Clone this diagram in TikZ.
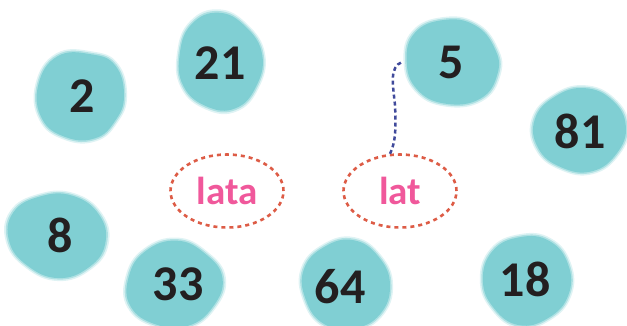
\documentclass[tikz,border=0pt]{standalone}
\usepackage{fontspec}
\setmainfont{Carlito}
\usetikzlibrary{shapes.geometric}
\definecolor{blobc}{RGB}{128,207,211}
\definecolor{numc}{RGB}{35,31,32}
\definecolor{pinkc}{RGB}{240,88,155}
\definecolor{ovalc}{RGB}{221,92,70}
\definecolor{linkc}{RGB}{64,74,155}
\newcommand\myblob[6]{%
  \begin{scope}[shift={(#1,#2)}, rotate=#5]
    \foreach \s/\o in {1.07/0.25,1.035/0.5,1.0/1} {
      \begin{scope}[xscale=#3*\s, yscale=#4*\s]
        \fill[blobc, opacity=\o] plot[smooth cycle, tension=0.75] coordinates {#6};
      \end{scope}
    }
  \end{scope}}
\begin{document}
\begin{tikzpicture}[x=1pt,y=-1pt,
  num/.style={font=\bfseries\fontsize{50}{50}\selectfont, text=numc, inner sep=0pt},
  word/.style={font=\bfseries\fontsize{39}{39}\selectfont, text=pinkc},
  oval/.style={ellipse, draw=ovalc, line width=2.6pt, dash pattern=on 4pt off 4pt, minimum width=113pt, minimum height=73pt, inner sep=0pt},
  link/.style={draw=linkc, line width=2.5pt, dash pattern=on 4pt off 3pt}]
\useasboundingbox (0,0) rectangle (627,325);
\clip (0,0) rectangle (627,325);
% blobs
\myblob{80}{96}{44}{45}{0}{(0:1) (35:0.97) (70:1.0) (110:0.97) (150:1.0) (195:0.98) (240:1.02) (285:0.96) (320:1.05)}
\myblob{220}{62}{42}{49}{10}{(0:1.02) (40:0.97) (80:1.0) (120:0.98) (160:1.02) (200:0.96) (240:1.0) (280:1.01) (320:0.97)}
\myblob{452}{62}{47}{43}{-15}{(0:1.0) (40:1.02) (85:0.98) (125:1.0) (165:0.97) (205:1.02) (245:0.98) (285:1.0) (325:0.98)}
\myblob{580}{130}{46}{42}{5}{(0:1.0) (40:0.98) (80:1.02) (120:0.97) (160:1.0) (200:1.02) (240:0.97) (280:1.0) (320:0.99)}
\myblob{57}{235}{49}{42}{-10}{(0:1.0) (40:0.98) (80:1.02) (120:0.97) (160:1.0) (200:1.02) (240:0.96) (280:1.0) (320:1.01)}
\myblob{174}{285}{48}{43}{8}{(0:1.02) (40:0.97) (80:1.0) (120:0.98) (160:1.02) (200:0.97) (240:1.0) (280:1.03) (320:0.96)}
\myblob{346}{285}{44}{45}{0}{(0:1.0) (40:1.01) (80:0.98) (120:1.0) (160:0.97) (200:1.02) (240:0.98) (280:1.01) (320:0.97)}
\myblob{527}{280}{44}{45}{-20}{(0:1.0) (40:0.98) (80:1.02) (120:0.97) (160:1.0) (200:1.02) (240:0.97) (280:1.0) (320:0.99)}
% numbers
\node[num] (n2)  at (82,96)   {2};
\node[num] (n21) at (220,63)  {21};
\node[num] (n5)  at (451,62)  {5};
\node[num] (n81) at (580,131) {81};
\node[num] (n8)  at (60,235)  {8};
\node[num] (n33) at (178,284) {33};
\node[num] (n64) at (340,287) {64};
\node[num] (n18) at (525,279) {18};
% ovals
\node[oval] (lata) at (227,191) {};
\node[word] at (lata.center) {lata};
\node[oval] (lat) at (400,191) {};
\node[word] at (lat.center) {lat};
% link
\coordinate (linkend) at (402,62);
\path[link] (lat.105) .. controls (396,142) and (396,125) .. (395,105)
  .. controls (393,85) and (389,67) .. (linkend);
\end{tikzpicture}
\end{document}
